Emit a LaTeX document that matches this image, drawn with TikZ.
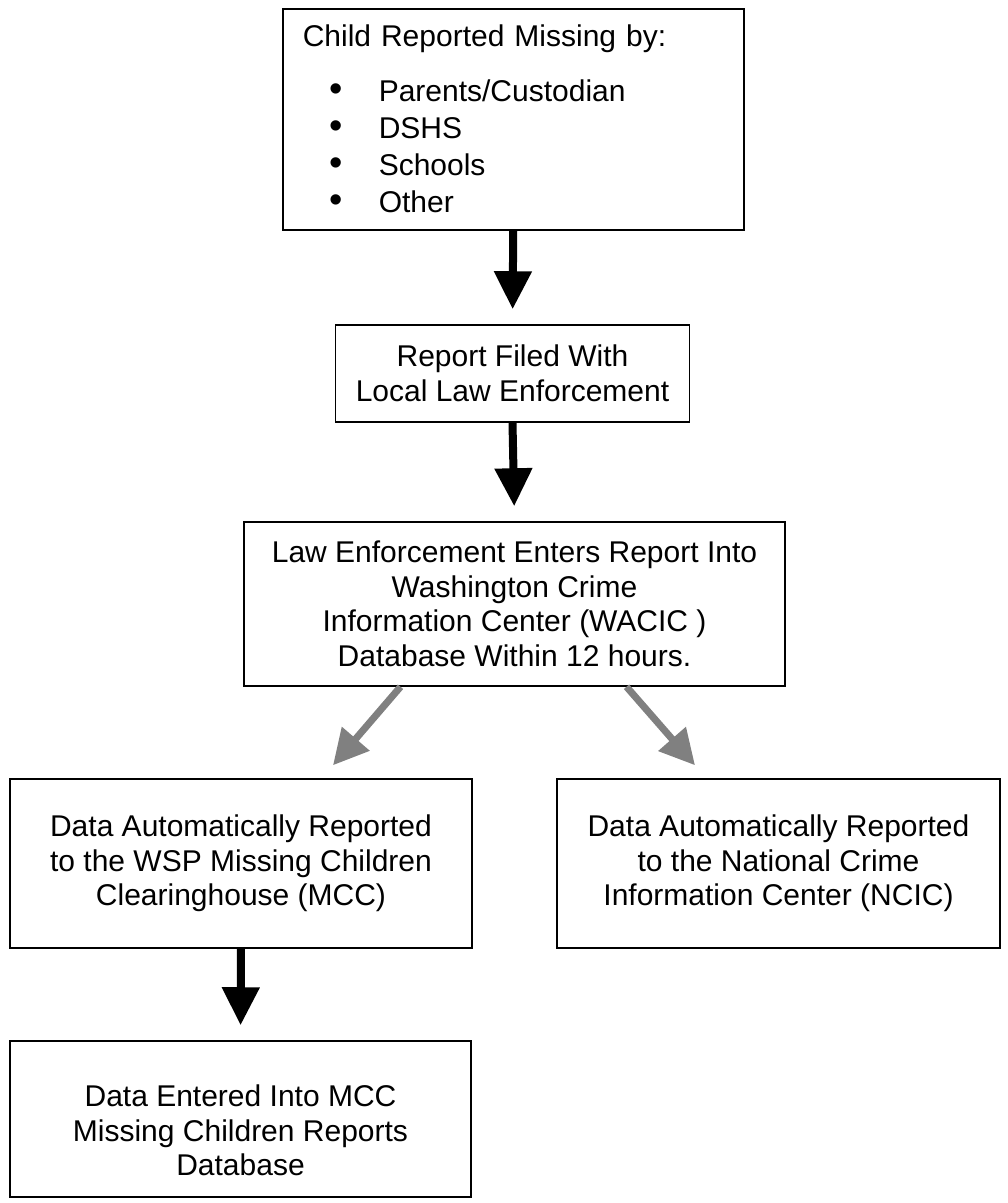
\documentclass[tikz,border=0pt]{standalone}
\usepackage{fontspec}
\setmainfont{Liberation Sans}
\usetikzlibrary{arrows.meta}
\tikzset{
  box/.style={draw=black, line width=1.5pt, fill=white, align=center, inner sep=0pt, font=\fontsize{30}{34.5}\selectfont},
  listbox/.style={box, align=left, font=\fontsize{30}{37}\selectfont},
  downarr/.style={line width=8pt, -{Triangle[width=36pt,length=38pt]}, shorten >=15pt},
  grayarr/.style={line width=7pt, draw=black!50, -{Triangle[width=35pt,length=35pt]}},
}
\newcommand{\blt}{\hspace*{27pt}\makebox[49pt][l]{\fontsize{38}{37}\selectfont\textbullet}}
\begin{document}
\begin{tikzpicture}[x=1pt,y=-1pt]
\useasboundingbox (0,0) rectangle (1008,1203);
\node[listbox, anchor=north west, text width=421pt, inner xsep=20pt, minimum height=221pt] (missing) at (282,8)
  {Child Reported Missing by:\\[18pt]
   \blt Parents/Custodian\\
   \blt DSHS\\
   \blt Schools\\
   \blt Other};
\node[box, minimum width=354pt, minimum height=97pt] (filed) at (512.5,373.5) {Report Filed With\\Local Law Enforcement};
\node[box, minimum width=541pt, minimum height=164pt] (enter) at (514.5,604)
  {Law Enforcement Enters Report Into\\Washington Crime\\Information Center (WACIC )\\Database Within 12 hours.};
\node[box, minimum width=462pt, minimum height=169pt] (mcc) at (241,863.5)
  {Data Automatically Reported\\to the WSP Missing Children\\Clearinghouse (MCC)};
\node[box, minimum width=443pt, minimum height=169pt] (ncic) at (778.5,863.5)
  {Data Automatically Reported\\to the National Crime\\Information Center (NCIC)};
\node[box, minimum width=461pt, minimum height=156pt] (entered) at (240.5,1119)
  {\rule{0pt}{45pt}Data Entered Into MCC\\Missing Children Reports\\Database};
\draw[downarr] (missing.south) -- (filed.north);
\draw[downarr] (filed.south) -- (enter.north);
\draw[downarr] (mcc.south) -- (entered.north);
\draw[grayarr] ([xshift=-114pt]enter.south) -- ([xshift=92pt,yshift=13pt]mcc.north);
\draw[grayarr] ([xshift=112pt]enter.south) -- ([xshift=-83.5pt,yshift=13pt]ncic.north);
\end{tikzpicture}
\end{document}
